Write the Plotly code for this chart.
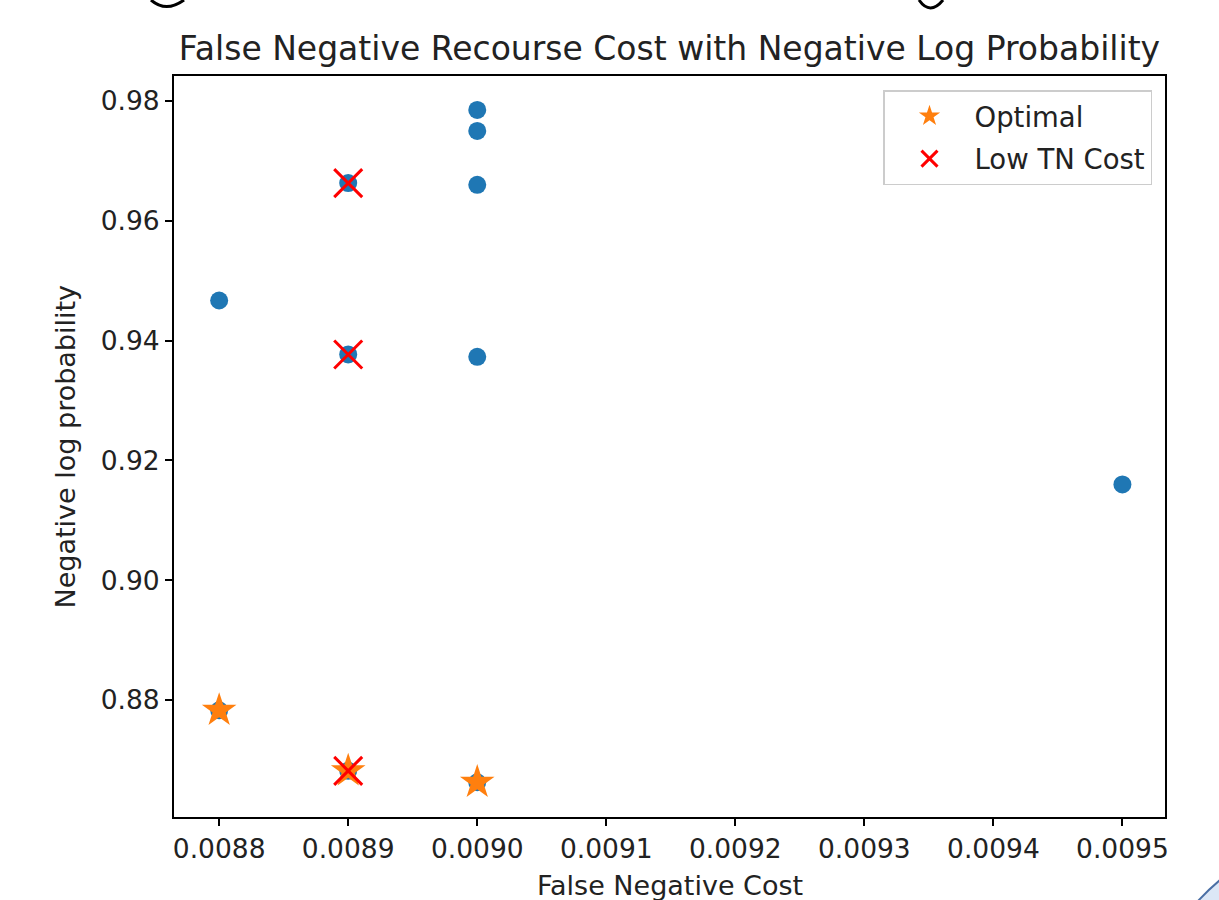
import plotly.graph_objects as go

# ---- data ----
all_cost = [0.0088, 0.0089, 0.0089, 0.0090, 0.0090, 0.0090, 0.0090, 0.0095,
            0.0088, 0.0089, 0.0090]
all_nlp = [0.9467, 0.9663, 0.9377, 0.9785, 0.9750, 0.9660, 0.9373, 0.9160,
           0.8783, 0.8682, 0.8663]

opt_cost = [0.0088, 0.0089, 0.0090]
opt_nlp = [0.8783, 0.8682, 0.8663]

lowtn_cost = [0.0089, 0.0089, 0.0089]
lowtn_nlp = [0.9663, 0.9377, 0.8682]

x_ticks = [0.0088, 0.0089, 0.0090, 0.0091, 0.0092, 0.0093, 0.0094, 0.0095]
y_ticks = [0.88, 0.90, 0.92, 0.94, 0.96, 0.98]

title = "False Negative Recourse Cost with Negative Log Probability"
x_label = "False Negative Cost"
y_label = "Negative log probability"

FONT = "DejaVu Sans"
TXT = "#222222"

W, H = 1219, 900
ML, MR, MT, MB = 174, 54, 76, 83
PW, PH = W - ML - MR, H - MT - MB


def px(x):
    return (x - ML) / PW


def py(y):
    return (H - MB - y) / PH


fig = go.Figure()
fig.add_trace(go.Scatter(x=all_cost, y=all_nlp, mode="markers", showlegend=False,
                         marker=dict(color="#1f77b4", size=18, line=dict(width=0))))
fig.add_trace(go.Scatter(x=opt_cost, y=opt_nlp, mode="markers", name="Optimal",
                         legendgroup="a",
                         marker=dict(color="#ff7f0e", symbol="star", size=26,
                                     line=dict(width=0))))
fig.add_trace(go.Scatter(x=lowtn_cost, y=lowtn_nlp, mode="markers", name="Low TN Cost",
                         legendgroup="b",
                         marker=dict(color="red", symbol="x-thin", size=28,
                                     line=dict(color="red", width=3))))

axis_common = dict(showline=True, mirror=True, linecolor="black", linewidth=2,
                   ticks="outside", ticklen=7, tickwidth=2, tickcolor="black",
                   showgrid=False, zeroline=False,
                   tickfont=dict(family=FONT, size=26.5, color=TXT))

fig.update_xaxes(range=[0.008765, 0.009533], tickvals=x_ticks, tickformat=".4f",
                 **axis_common)
fig.update_yaxes(range=[0.8605, 0.98417], tickvals=y_ticks, tickformat=".2f",
                 **axis_common)

# partial glyphs / slide decoration cut off at the edges of the screenshot
shapes = [
    dict(type="path", xref="paper", yref="paper",
         path=f"M {px(151)},{py(0)} Q {px(166)},{py(13)} {px(184)},{py(0)}",
         line=dict(color="black", width=3)),
    dict(type="path", xref="paper", yref="paper",
         path=f"M {px(919)},{py(0)} Q {px(930)},{py(16)} {px(943)},{py(0)}",
         line=dict(color="black", width=3)),
    dict(type="path", xref="paper", yref="paper",
         path=(f"M {px(1198)},{py(901)} Q {px(1208)},{py(890)} {px(1220)},{py(880)} "
               f"L {px(1221)},{py(902)} Z"),
         fillcolor="#dce7f6", line=dict(color="#4a6fa5", width=2)),
]

fig.update_layout(
    width=W, height=H,
    margin=dict(l=ML, r=MR, t=MT, b=MB),
    paper_bgcolor="white", plot_bgcolor="white",
    title=dict(text=title, x=669.5 / W, xanchor="center", y=1 - 48 / H,
               yanchor="middle", font=dict(family=FONT, size=33, color=TXT)),
    legend=dict(x=px(1152), xanchor="right", y=py(90), yanchor="top",
                bordercolor="#cccccc", borderwidth=1.5, bgcolor="white",
                font=dict(family=FONT, size=27.5, color=TXT),
                itemwidth=80, tracegroupgap=4),
    shapes=shapes,
    annotations=[
        dict(text=x_label, xref="paper", yref="paper", x=0.5, y=0,
             xanchor="center", yanchor="middle", yshift=-68, showarrow=False,
             font=dict(family=FONT, size=27, color=TXT)),
        dict(text=y_label, xref="paper", yref="paper", x=0, y=0.5,
             xanchor="center", yanchor="middle", xshift=-109, textangle=-90,
             showarrow=False, font=dict(family=FONT, size=27, color=TXT)),
    ],
)

fig.write_html("out.html")
